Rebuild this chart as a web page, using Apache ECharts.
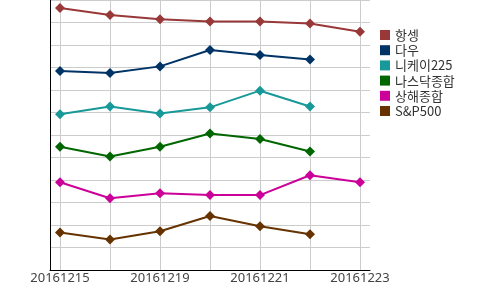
<!DOCTYPE html>
<html><head><meta charset="utf-8">
<script src="https://cdn.jsdelivr.net/npm/echarts@6/dist/echarts.min.js"></script>
<style>html,body{margin:0;padding:0;background:#fff}#c{width:500px;height:290px}</style>
</head><body><div id="c"></div>
<script>
var categories = ['20161215','20161216','20161219','20161220','20161221','20161222','20161223'];
var seriesNames = ['항셍','다우','니케이225','나스닥종합','상해종합','S&P500'];
var seriesColors = ['#993838','#003366','#179999','#006600','#cc0099','#663300'];
var hangseng = [11.64, 11.33, 11.14, 11.04, 11.04, 10.96, 10.59];
var dow      = [8.84, 8.76, 9.05, 9.78, 9.56, 9.36, null];
var nikkei   = [6.92, 7.27, 6.96, 7.23, 7.97, 7.27, null];
var nasdaq   = [5.48, 5.04, 5.48, 6.07, 5.82, 5.27, null];
var shanghai = [3.90, 3.19, 3.41, 3.33, 3.33, 4.21, 3.90];
var sp500    = [1.67, 1.36, 1.72, 2.40, 1.94, 1.59, null];
var values = [hangseng, dow, nikkei, nasdaq, shanghai, sp500];

var chart = echarts.init(document.getElementById('c'));
var series = seriesNames.map(function(n, i){
  return {
    name: n, type: 'line', xAxisIndex: 1, yAxisIndex: 1,
    data: values[i], symbol: 'diamond', symbolSize: 10,
    lineStyle: {width: 2, color: seriesColors[i]},
    itemStyle: {color: seriesColors[i]},
    emphasis: {disabled: true}, animation: false
  };
});
chart.setOption({
  animation: false,
  grid: [
    {left: 50, top: 0, width: 320, height: 270},
    {left: 60, top: 0, width: 300, height: 270}
  ],
  legend: {
    orient: 'vertical', left: 375, top: 23.5, icon: 'rect',
    itemWidth: 10, itemHeight: 10, itemGap: 2.2,
    textStyle: {fontFamily: 'Noto Sans CJK KR', fontSize: 13, color: '#333', lineHeight: 13},
    data: seriesNames
  },
  xAxis: [
    {gridIndex: 0, type: 'value', min: 0, max: 1,
     axisLine: {show: true, onZero: false, lineStyle: {color: '#000', width: 1}},
     axisTick: {show: false}, axisLabel: {show: false}, splitLine: {show: false}},
    {gridIndex: 1, type: 'category', boundaryGap: false, data: categories,
     axisLine: {show: false}, axisTick: {show: false},
     axisLabel: {interval: 1, color: '#444', fontSize: 13, fontFamily: 'Noto Sans', margin: 2},
     splitLine: {show: true, interval: 0, lineStyle: {color: '#cccccc', width: 1}}}
  ],
  yAxis: [
    {gridIndex: 0, type: 'value', min: 0, max: 12, interval: 1,
     axisLine: {show: true, lineStyle: {color: '#000', width: 1}},
     axisTick: {show: false}, axisLabel: {show: false},
     splitLine: {show: true, lineStyle: {color: '#cccccc', width: 1}}},
    {gridIndex: 1, type: 'value', min: 0, max: 12, interval: 1, show: false,
     splitLine: {show: false}}
  ],
  series: series
});
</script></body></html>
